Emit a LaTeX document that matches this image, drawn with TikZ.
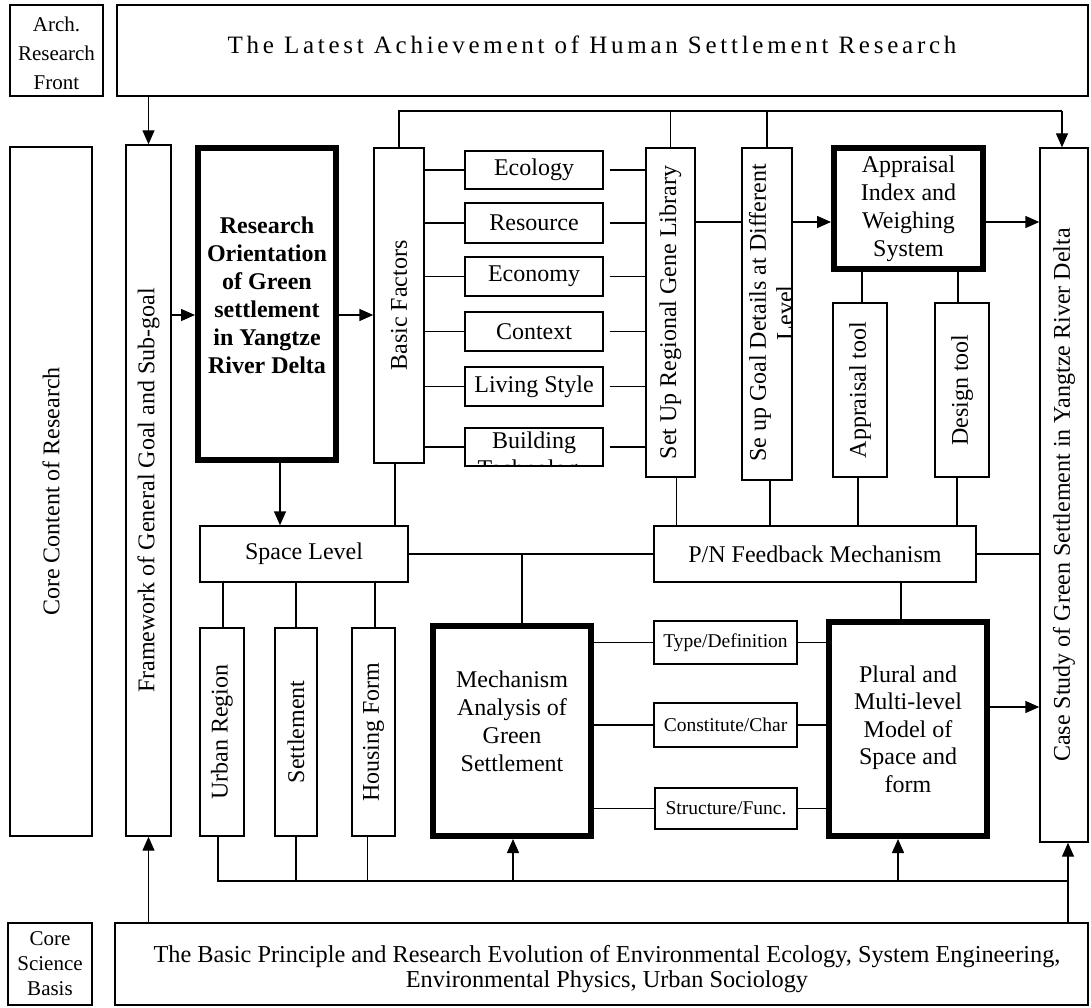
\documentclass[tikz,border=0pt]{standalone}
\usepackage{fontspec}
\setmainfont{Liberation Serif}
\newfontfamily\spacedfont{Liberation Serif}[LetterSpace=15]
\usetikzlibrary{arrows.meta,calc}
\begin{document}
\begin{tikzpicture}[x=1pt,y=-1pt,
  every node/.style={font=\fontsize{24}{28}\selectfont},
  box/.style={draw,line width=1.4pt,inner sep=0pt,align=center},
  thickbox/.style={draw,line width=6pt,inner sep=0pt,align=center},
  txt/.style={inner sep=0pt,align=center},
  small/.style={font=\fontsize{19.5}{21}\selectfont},
  ln/.style={line width=1.4pt},
  arr/.style={line width=1.4pt,-{Triangle[length=14pt,width=12pt]}}
]
\useasboundingbox (0,0) rectangle (1091,1008);

% ---- top row
\node[box,minimum width=93pt,minimum height=91pt] (arch) at (56.5,50.5) {};
\node[txt,font=\fontsize{21}{29}\selectfont] (archtext) at (56.5,53.5) {Arch.\\Research\\Front};
\node[box,minimum width=971pt,minimum height=91pt] (top) at (602.5,50.5) {};
\node[txt,font=\spacedfont\fontsize{25}{28}\selectfont] (toptext) at (592,45) {The Latest Achievement of Human Settlement Research};

% ---- left columns
\node[box,minimum width=82pt,minimum height=689pt] (core) at (51,491.5) {\rotatebox{90}{Core Content of Research}};
\node[box,minimum width=45pt,minimum height=691pt] (fw) at (148.5,490.5) {\rotatebox{90}{Framework of General Goal and Sub-goal}};

\node[thickbox,minimum width=138pt,minimum height=312pt] (ro) at (267,304) {};
\node[txt,font=\fontsize{24}{28}\selectfont\bfseries] (rotext) at (267,295) {Research\\Orientation\\of Green\\settlement\\in Yangtze\\River Delta};

\node[box,minimum width=50pt,minimum height=315pt] (bf) at (399,305.5) {\rotatebox{90}{Basic Factors}};

% ---- factor boxes
\node[box,minimum width=138pt,minimum height=38pt] (eco) at (534,170) {Ecology};
\node[box,minimum width=138pt,minimum height=40pt] (res) at (534,223) {Resource};
\node[box,minimum width=138pt,minimum height=39pt] (econ) at (534,276.5) {Economy};
\node[box,minimum width=138pt,minimum height=39pt] (ctx) at (534,331.5) {Context};
\node[box,minimum width=138pt,minimum height=39pt] (liv) at (534,386.5) {Living Style};
\node[box,minimum width=138pt,minimum height=38pt] (bld) at (534,447) {};
\begin{scope}
  \clip (465,428) rectangle (603,466);
  \node[txt] (bldtext) at (534,457) {Building\\Technology};
\end{scope}

\node[box,minimum width=49pt,minimum height=329pt] (gene) at (670.5,312.5) {\rotatebox{90}{Set Up Regional Gene Library}};
\node[box,minimum width=50pt,minimum height=332pt] (seup) at (767,314) {};
\node[txt,rotate=90,font=\fontsize{24}{27}\selectfont] (seuptext) at (771,313) {Se up Goal Details at Different\\Level};

\node[thickbox,minimum width=149pt,minimum height=121pt] (aiw) at (908.5,208.5) {Appraisal\\Index and\\Weighing\\System};
\node[box,minimum width=54pt,minimum height=174pt] (atool) at (860,390) {\rotatebox{90}{Appraisal tool}};
\node[box,minimum width=54pt,minimum height=174pt] (dtool) at (962,390) {\rotatebox{90}{Design tool}};

\node[box,minimum width=48pt,minimum height=694pt] (case) at (1064,495) {\rotatebox{90}{Case Study of Green Settlement in Yangtze River Delta}};

% ---- middle row
\node[box,minimum width=208pt,minimum height=56pt] (space) at (304,554) {Space Level};
\node[box,minimum width=322pt,minimum height=56pt] (pn) at (815,554) {P/N Feedback Mechanism};

\node[box,minimum width=44pt,minimum height=208pt] (urban) at (222,732) {\rotatebox{90}{Urban Region}};
\node[box,minimum width=42pt,minimum height=208pt] (settle) at (296,732) {\rotatebox{90}{Settlement}};
\node[box,minimum width=43pt,minimum height=208pt] (housing) at (373.5,732) {\rotatebox{90}{Housing Form}};

\node[thickbox,minimum width=158pt,minimum height=210pt] (mech) at (512,731) {};
\node[txt] (mechtext) at (512,721) {Mechanism\\Analysis of\\Green\\Settlement};

\node[box,small,minimum width=143pt,minimum height=43pt] (type) at (725.5,642.5) {Type/Definition};
\node[box,small,minimum width=143pt,minimum height=44pt] (const) at (725.5,725) {Constitute/Char};
\node[box,small,minimum width=142pt,minimum height=41pt] (struct) at (726,808.5) {Structure/Func.};

\node[thickbox,minimum width=158pt,minimum height=214pt,font=\fontsize{24}{27.5}\selectfont] (plural) at (908,729) {Plural and\\Multi-level\\Model of\\Space and\\form};

% ---- bottom row
\node[box,minimum width=84pt,minimum height=82pt,font=\fontsize{21}{25}\selectfont] (csb) at (50,964) {Core\\Science\\Basis};
\node[box,minimum width=973pt,minimum height=82pt] (basis) at (601.5,964) {};
\node[txt,font=\fontsize{24.3}{25}\selectfont] (basistext) at (607,969) {The Basic Principle and Research Evolution of Environmental Ecology, System Engineering,\\Environmental Physics, Urban Sociology};

% ================= connectors
\draw[arr] (top.south -| fw.north) -- (fw.north);

\coordinate (tl) at (399,111);
\coordinate (tr) at (1062,111);
\draw[ln] (bf.north) -- (tl) -- (tr);
\draw[arr] (tr) -- (tr |- case.north);
\draw[ln] (gene.north) -- (gene.north |- tl);
\draw[ln] (seup.north) -- (seup.north |- tl);

\coordinate (ry) at (0,315);
\draw[arr] (fw.east |- ry) -- (ro.west |- ry);
\draw[arr] (ro.east |- ry) -- (bf.west |- ry);

\foreach \n in {eco,res,econ,ctx,liv,bld} {
  \draw[ln] (bf.east |- \n.west) -- (\n.west);
  \draw[ln] ([xshift=6pt]\n.east) -- (gene.west |- \n.east);
}

\coordinate (gy) at (0,222);
\draw[ln] (gene.east |- gy) -- (seup.west |- gy);
\draw[arr] (seup.east |- gy) -- (aiw.west |- gy);
\draw[arr] (aiw.east |- gy) -- (case.west |- gy);

\draw[ln] ([xshift=2pt]atool.north |- aiw.south) -- ([xshift=2pt]atool.north);
\draw[ln] ([xshift=-4pt]dtool.north |- aiw.south) -- ([xshift=-4pt]dtool.north);

\draw[ln] ([xshift=6pt]gene.south) -- ([xshift=6pt]gene.south |- pn.north);
\draw[ln] ([xshift=3pt]seup.south) -- ([xshift=3pt]seup.south |- pn.north);
\draw[ln] ([xshift=-2pt]atool.south) -- ([xshift=-2pt]atool.south |- pn.north);
\draw[ln] ([xshift=-5pt]dtool.south) -- ([xshift=-5pt]dtool.south |- pn.north);

\draw[ln] ([xshift=-4pt]bf.south) -- ([xshift=-4pt]bf.south |- space.north);
\draw[arr] ([xshift=13pt]ro.south) -- ([xshift=13pt]ro.south |- space.north);

\draw[ln] (space.east) -- (pn.west);
\draw[ln] ([xshift=10pt]mech.north |- space.east) -- ([xshift=10pt]mech.north);
\draw[ln] (pn.east) -- (case.west |- pn.east);
\draw[ln] ([xshift=-7pt]plural.north |- pn.south) -- ([xshift=-7pt]plural.north);

\draw[ln] ([xshift=1pt]urban.north |- space.south) -- ([xshift=1pt]urban.north);
\draw[ln] (settle.north |- space.south) -- (settle.north);
\draw[ln] ([xshift=1.5pt]housing.north |- space.south) -- ([xshift=1.5pt]housing.north);

\foreach \n in {type,const,struct} {
  \draw[ln] (mech.east |- \n.west) -- (\n.west);
  \draw[ln] (\n.east) -- (plural.west |- \n.east);
}
\coordinate (py) at (0,707);
\draw[arr] (plural.east |- py) -- (case.west |- py);

\coordinate (bl) at (218,881);
\coordinate (br) at (1068,881);
\draw[ln] ([xshift=-4pt]urban.south) -- ([xshift=-4pt]urban.south |- bl) -- (br);
\draw[ln] (settle.south) -- (settle.south |- bl);
\draw[ln] ([xshift=-6pt]housing.south) -- ([xshift=-6pt]housing.south |- bl);
\draw[arr] ([xshift=1pt]mech.south |- bl) -- ([xshift=1pt]mech.south);
\draw[arr] ([xshift=-10pt]plural.south |- bl) -- ([xshift=-10pt]plural.south);
\draw[arr] (basis.north -| br) -- (br |- case.south);
\draw[arr] (basis.north -| fw.south) -- (fw.south);
\end{tikzpicture}
\end{document}
